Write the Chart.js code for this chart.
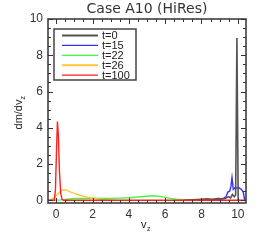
<!DOCTYPE html>
<html>
<head>
<meta charset="utf-8">
<script src="https://cdn.jsdelivr.net/npm/chart.js@4/dist/chart.umd.min.js"></script>
<style>
  html, body { margin: 0; padding: 0; background: #fff; }
</style>
</head>
<body>
<canvas id="myChart" width="266" height="247"></canvas>
<script>
// series labels and colours (legend order)
var labels = ["t=0", "t=15", "t=22", "t=26", "t=100"];
var colors = ["#555555", "#3a2cff", "#3dff3d", "#ffc53a", "#ff2020"];
var widths = [1.6, 1.4, 1.4, 1.4, 1.4];

// t=0
var vz0 = [7.0, 7.5, 8.0, 8.3, 8.6, 8.9, 9.1, 9.3, 9.5, 9.6, 9.7, 9.8, 9.88, 9.95, 10.02, 10.1];
var dm0 = [0.0, 0.03, 0.06, 0.08, 0.05, 0.1, 0.08, 0.1, 0.2, 0.12, 0.32, 0.2, 0.3, 8.95, 0.0, 0.0];

// t=15
var vz15 = [8.0, 8.5, 8.8, 9.0, 9.2, 9.35, 9.45, 9.55, 9.62, 9.68, 9.75, 9.85, 9.95, 10.05, 10.2, 10.3, 10.38, 10.45];
var dm15 = [0.0, 0.02, 0.05, 0.06, 0.1, 0.2, 0.45, 0.5, 0.75, 1.25, 0.6, 0.7, 0.68, 0.7, 0.6, 0.45, 0.0, 0.0];

// t=22
var vz22 = [-0.45, 0.0, 0.3, 0.6, 1.0, 1.5, 2.0, 2.5, 3.0, 3.5, 4.0, 4.5, 5.0, 5.4, 5.8, 6.2, 6.6, 7.0, 7.5, 8.0];
var dm22 = [0.0, 0.0, 0.02, 0.06, 0.1, 0.1, 0.12, 0.1, 0.1, 0.12, 0.14, 0.18, 0.22, 0.25, 0.2, 0.12, 0.06, 0.03, 0.02, 0.0];

// t=26
var vz26 = [-0.45, -0.3, -0.15, 0.0, 0.15, 0.3, 0.45, 0.6, 0.8, 1.0, 1.3, 1.6, 2.0, 2.4, 2.8, 3.2];
var dm26 = [0.0, 0.05, 0.12, 0.25, 0.42, 0.55, 0.58, 0.55, 0.45, 0.38, 0.28, 0.2, 0.12, 0.06, 0.02, 0.0];

// t=100
var vz100 = [-0.45, -0.1, -0.04, 0.02, 0.07, 0.12, 0.18, 0.25, 0.32, 0.4, 1.0, 5.0, 10.45];
var dm100 = [0.0, 0.0, 0.6, 2.8, 4.35, 3.6, 1.6, 0.4, 0.05, 0.0, 0.0, 0.0, 0.0];

var xTicks = [0, 2, 4, 6, 8, 10];
var yTicks = [0, 2, 4, 6, 8, 10];

function pts(xs, ys) {
  var out = [];
  for (var i = 0; i < xs.length; i++) out.push({x: xs[i], y: ys[i]});
  return out;
}

var allX = [vz0, vz15, vz22, vz26, vz100];
var allY = [dm0, dm15, dm22, dm26, dm100];
var drawOrder = [1, 2, 4, 3, 0];

var datasets = [];
for (var k = 0; k < labels.length; k++) {
  datasets.push({
    label: labels[k],
    data: pts(allX[k], allY[k]),
    borderColor: colors[k],
    borderWidth: widths[k],
    pointRadius: 0,
    tension: 0,
    fill: false,
    order: drawOrder[k]
  });
}

var inkColor = "#333333";
var fontFam = "'Liberation Sans', Arial, sans-serif";

// IDL-like frame, inward ticks, legend box and axis titles
var idlPlugin = {
  id: "idl",
  afterDatasetsDraw: function(chart) {
    var ctx = chart.ctx;
    var a = chart.chartArea;
    var xs = chart.scales.x, ys = chart.scales.y;
    ctx.save();
    ctx.strokeStyle = inkColor;
    ctx.lineWidth = 1.5;
    ctx.strokeRect(a.left, a.top, a.right - a.left, a.bottom - a.top);

    ctx.lineWidth = 1;
    var v, p, len;
    for (v = 0; v <= 10.01; v += 0.5) {
      len = (Math.abs(v % 2) < 0.01) ? 5 : 3;
      p = Math.round(xs.getPixelForValue(v)) + 0.5;
      ctx.beginPath();
      ctx.moveTo(p, a.bottom); ctx.lineTo(p, a.bottom - len);
      ctx.moveTo(p, a.top); ctx.lineTo(p, a.top + len);
      ctx.stroke();
    }
    for (v = 0; v <= 10.01; v += 0.5) {
      len = (Math.abs(v % 2) < 0.01) ? 5 : 3;
      p = Math.round(ys.getPixelForValue(v)) + 0.5;
      ctx.beginPath();
      ctx.moveTo(a.left, p); ctx.lineTo(a.left + len, p);
      ctx.moveTo(a.right, p); ctx.lineTo(a.right - len, p);
      ctx.stroke();
    }

    // legend
    var lx = 54, ly = 29, lw = 82, lh = 51;
    ctx.fillStyle = "#fff";
    ctx.fillRect(lx, ly, lw, lh);
    ctx.strokeStyle = "#444";
    ctx.lineWidth = 1.5;
    ctx.strokeRect(lx, ly, lw, lh);
    ctx.font = "11px " + fontFam;
    ctx.textBaseline = "middle";
    chart.data.datasets.forEach(function(ds, i) {
      var yy = 35.5 + i * 9.9;
      ctx.strokeStyle = ds.borderColor;
      ctx.lineWidth = (i === 0 || i === 3) ? 2 : 1.2;
      ctx.beginPath();
      ctx.moveTo(62, yy); ctx.lineTo(98, yy);
      ctx.stroke();
      ctx.fillStyle = "#222";
      ctx.fillText(ds.label, 102, yy + 0.5);
    });

    // axis titles with subscript z
    ctx.fillStyle = "#222";
    ctx.font = "11px " + fontFam;
    ctx.save();
    ctx.translate(22, 112);
    ctx.rotate(-Math.PI / 2);
    ctx.textAlign = "left";
    ctx.textBaseline = "alphabetic";
    var w = ctx.measureText("dm/dv").width;
    var sw = 5;
    ctx.fillText("dm/dv", -(w + sw) / 2, 0);
    ctx.font = "7px " + fontFam;
    ctx.fillText("z", -(w + sw) / 2 + w, 3);
    ctx.restore();

    ctx.font = "11px " + fontFam;
    ctx.textAlign = "left";
    ctx.textBaseline = "alphabetic";
    ctx.fillText("v", 141, 228);
    ctx.font = "7px " + fontFam;
    ctx.fillText("z", 147, 231);
    ctx.restore();
  }
};

var ctx = document.getElementById("myChart");
var chart = new Chart(ctx, {
  type: "line",
  data: { datasets: datasets },
  plugins: [idlPlugin],
  options: {
    responsive: false,
    animation: { duration: 0 },
    layout: { padding: { left: 8, right: 20, top: 0, bottom: 0 } },
    plugins: {
      legend: { display: false },
      tooltip: { enabled: false },
      title: {
        display: true,
        text: "Case A10 (HiRes)",
        fullSize: false,
        color: "#333",
        font: { family: "'DejaVu Sans', sans-serif", size: 14, weight: "normal", lineHeight: 1.2 },
        padding: { top: 1, bottom: 1.2 }
      }
    },
    scales: {
      x: {
        type: "linear",
        min: -0.45,
        max: 10.45,
        afterBuildTicks: function(s) { s.ticks = xTicks.map(function(v) { return {value: v}; }); },
        afterFit: function(s) { s.height = 44; },
        grid: { display: false, drawTicks: false },
        border: { display: false },
        ticks: { color: "#333", padding: 4, maxRotation: 0, font: { family: fontFam, size: 12 } }
      },
      y: {
        type: "linear",
        min: -0.15,
        max: 10,
        afterBuildTicks: function(s) { s.ticks = yTicks.map(function(v) { return {value: v}; }); },
        afterFit: function(s) { s.width = 40; },
        grid: { display: false, drawTicks: false },
        border: { display: false },
        ticks: { color: "#333", padding: 5, font: { family: fontFam, size: 12 } }
      }
    }
  }
});
</script>
</body>
</html>
